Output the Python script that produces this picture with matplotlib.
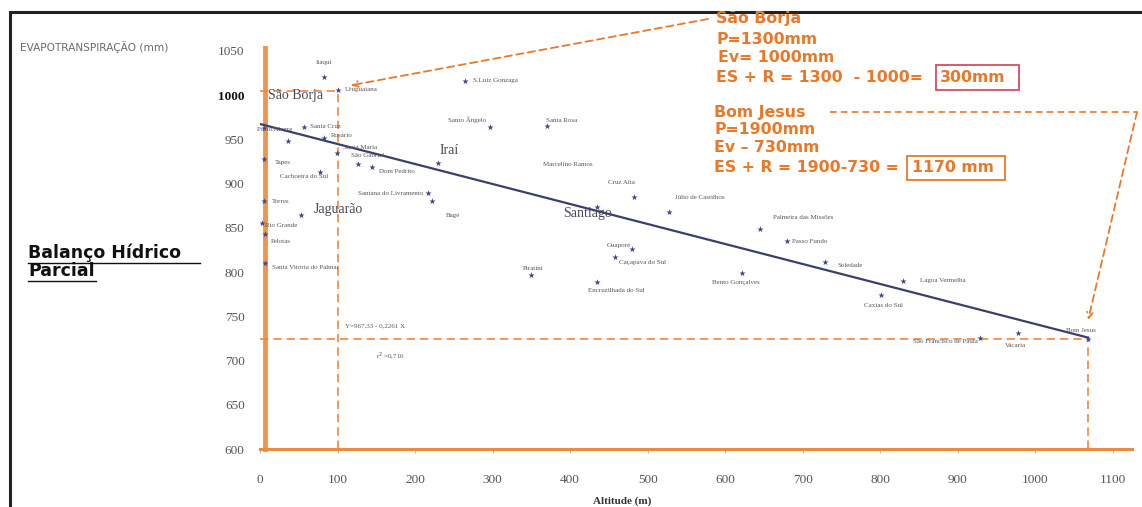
import matplotlib
matplotlib.use("Agg")
import matplotlib.pyplot as plt
from matplotlib.patches import Rectangle

W, H = 1142, 507

# ---------------- data ----------------
names = ["Itaqui", "Uruguaiana", "S.Luiz Gonzaga", "Santo Ângelo", "Santa Rosa",
         "Porto Alegre", "Santa Cruz", "", "Rosário", "Santa Maria", "São Gabriel",
         "Dom Pedrito", "Iraí", "Cachoeira do Sul", "Tapes", "Torres", "Rio Grande",
         "Pelotas", "Santa Vitória do Palmar", "Jaguarão", "Santana do Livramento",
         "Bagé", "Santiago", "Cruz Alta", "Júlio de Castilhos", "Palmeira das Missões",
         "Passo Fundo", "Guaporé", "Caçapava do Sul", "Piratini", "Encruzilhada do Sul",
         "Bento Gonçalves", "Soledade", "Lagoa Vermelha", "Caxias do Sul",
         "São Francisco de Paula", "Vacaria", "Bom Jesus"]
altitude = [82, 101, 265, 296, 370, 5, 57, 36, 82, 99, 126, 144, 229, 77, 5, 5, 3,
            7, 6, 53, 217, 222, 434, 482, 527, 645, 679, 480, 458, 350, 435, 621,
            729, 829, 801, 929, 978, 1068]
evapo = [1021, 1006, 1016, 964, 965, 963, 964, 948, 952, 934, 922, 919, 923, 913,
         928, 880, 855, 843, 810, 864, 889, 880, 873, 885, 868, 849, 835, 826, 817,
         797, 789, 799, 811, 790, 774, 725, 731, 724]
# label offsets in pixels (dx, dy) and alignment
label_dx = [0, 7, 8, -22, 15, -7, 6, 0, 7, 6, -7, 7, 2, -16, 11, 8, 19, 5, 7, 13,
            -5, 21, -9, -12, 31, 43, 5, -13, 4, 2, 19, -6, 12, 17, 2, -3, -3, -7]
label_dy = [14, 0, 0, 7, 6, -2, 0, 0, 2, 6, 9, -5, 13, -4, -4, 0, -2, -8, -4, 6,
            0, -14, -6, 14, 14, 11, 0, 4, -5, 6, -9, -10, -3, 0, -10, -3, -12, 9]
label_ha = ["center", "left", "left", "center", "center", "left", "left", "left",
            "left", "left", "left", "left", "left", "center", "left", "left", "center",
            "left", "left", "left", "right", "center", "center", "center", "center",
            "center", "left", "center", "left", "center", "center", "center", "left",
            "left", "center", "right", "center", "center"]
big_labels = ["Iraí", "Jaguarão", "Santiago"]

extra_labels = ["São Borja", "Marcelino Ramos"]
extra_alt = [10, 365]
extra_et = [999, 922]

x_ticks = [0, 100, 200, 300, 400, 500, 600, 700, 800, 900, 1000, 1100]
y_ticks = [600, 650, 700, 750, 800, 850, 900, 950, 1000, 1050]

intercept, slope = 967.33, -0.2261
fit_x = [0, 1068]

saoborja_alt, saoborja_et = 100, 1005
bomjesus_alt, bomjesus_et = 1068, 724

# ---------------- figure ----------------
fig = plt.figure(figsize=(W / 100, H / 100), dpi=100)
fig.patch.set_facecolor("white")

def fx(px):
    return px / W

def fy(py):
    return 1 - py / H

ax = fig.add_axes([fx(260), fy(449), fx(1113) - fx(260), fy(42) - fy(449)])
ax.set_xlim(0, 1100)
ax.set_ylim(600, 1060)
for s in ["top", "right", "left", "bottom"]:
    ax.spines[s].set_visible(False)

orange = "#ec8a3e"
navy = "#3d4590"
serif = ["Liberation Serif", "DejaVu Serif"]

ax.set_xticks(x_ticks)
ax.set_xticklabels([str(v) for v in x_ticks], fontfamily=serif, fontsize=9.5, color="#555555")
ax.set_yticks(y_ticks)
ax.set_yticklabels([str(v) for v in y_ticks], fontfamily=serif, fontsize=9.5, color="#555555")
for lab in ax.get_yticklabels():
    if lab.get_text() == "1000":
        lab.set_fontweight("bold")
        lab.set_color("#111111")
ax.tick_params(axis="x", length=3, color="#bbbbbb", pad=15)
ax.tick_params(axis="y", length=0, pad=11)

# axis lines (orange)
ax.plot([0, 1125], [600, 600], color=orange, lw=2.2, clip_on=False, zorder=2)
ax.plot([6, 6], [600, 1053], color=orange, lw=3.5, clip_on=False, zorder=2, alpha=0.9)

# dashed guides
dash = dict(color=orange, lw=1.2, ls=(0, (5, 3)), zorder=2)
ax.plot([saoborja_alt, saoborja_alt], [600, saoborja_et], **dash)
ax.plot([0, saoborja_alt], [saoborja_et, saoborja_et], **dash)
ax.plot([0, bomjesus_alt], [bomjesus_et, bomjesus_et], **dash)
ax.plot([bomjesus_alt, bomjesus_alt], [600, bomjesus_et], **dash)

# regression line
ax.plot(fit_x, [intercept + slope * v for v in fit_x], color="#3b3f6e", lw=1.6, zorder=3)

# points
ax.scatter(altitude, evapo, marker="*", s=22, color=navy, zorder=4, linewidths=0)

for n, a, e, dx, dy, ha in zip(names, altitude, evapo, label_dx, label_dy, label_ha):
    if not n:
        continue
    if n in big_labels:
        ax.annotate(n, (a, e), xytext=(dx, dy), textcoords="offset pixels", ha=ha,
                    va="center", fontsize=10, fontfamily=serif, color="#4a4a5a", zorder=5)
    else:
        ax.annotate(n, (a, e), xytext=(dx, dy), textcoords="offset pixels", ha=ha,
                    va="center", fontsize=5, fontfamily=serif, color="#555560", zorder=5)

ax.text(extra_alt[0], extra_et[0], extra_labels[0], fontsize=10, fontfamily=serif,
        color="#4a4a5a", ha="left", va="center", zorder=5)
ax.text(extra_alt[1], extra_et[1], extra_labels[1], fontsize=5, fontfamily=serif,
        color="#555560", ha="left", va="center", zorder=5)

# equation
ax.text(110, 736, "Y=967,33 - 0,2261 X", fontsize=5, fontfamily=serif, color="#555560",
        ha="left", va="bottom")
ax.text(150, 705, "r$^2$ =0,716", fontsize=5, fontfamily=serif, color="#555560",
        ha="left", va="center")

# left-side texts
fig.text(fx(20), fy(47), "EVAPOTRANSPIRAÇÃO (mm)", fontsize=7.6, color="#6a6a6a",
         ha="left", va="center")
fig.text(fx(28), fy(253), "Balanço Hídrico", fontsize=12.5, fontweight="bold",
         color="#111111", ha="left", va="center")
fig.text(fx(28), fy(271), "Parcial", fontsize=12.5, fontweight="bold",
         color="#111111", ha="left", va="center")
fig.add_artist(plt.Line2D([fx(28), fx(200)], [fy(263), fy(263)], color="#111111", lw=1))
fig.add_artist(plt.Line2D([fx(28), fx(96)], [fy(281), fy(281)], color="#111111", lw=1))

fig.text(fx(622), fy(501), "Altitude (m)", fontsize=8, fontweight="bold",
         fontfamily=serif, color="#333333", ha="center", va="center")

# orange annotation texts
oc = "#e8782a"
sans = ["DejaVu Sans"]
fs = 11.3
fig.text(fx(716), fy(19), "São Borja", fontsize=fs, fontweight="bold", color=oc,
         fontfamily=sans, ha="left", va="center")
fig.text(fx(716), fy(39), "P=1300mm", fontsize=fs, fontweight="bold", color=oc,
         fontfamily=sans, ha="left", va="center")
fig.text(fx(718), fy(58), "Ev= 1000mm", fontsize=fs, fontweight="bold", color=oc,
         fontfamily=sans, ha="left", va="center")
fig.text(fx(716), fy(77), "ES + R = 1300  - 1000=", fontsize=fs, fontweight="bold", color=oc,
         fontfamily=sans, ha="left", va="center")
fig.text(fx(940), fy(77), "300mm", fontsize=fs, fontweight="bold", color=oc,
         fontfamily=sans, ha="left", va="center")
fig.add_artist(Rectangle((fx(936), fy(90)), fx(1019) - fx(936), fy(65) - fy(90),
                         fill=False, edgecolor="#d24f63", lw=1.3))

fig.text(fx(714), fy(112), "Bom Jesus", fontsize=fs, fontweight="bold", color=oc,
         fontfamily=sans, ha="left", va="center")
fig.text(fx(714), fy(129), "P=1900mm", fontsize=fs, fontweight="bold", color=oc,
         fontfamily=sans, ha="left", va="center")
fig.text(fx(714), fy(148), "Ev – 730mm", fontsize=fs, fontweight="bold", color=oc,
         fontfamily=sans, ha="left", va="center")
fig.text(fx(714), fy(168), "ES + R = 1900-730 =", fontsize=fs, fontweight="bold", color=oc,
         fontfamily=sans, ha="left", va="center")
fig.text(fx(912), fy(168), "1170 mm", fontsize=fs, fontweight="bold", color=oc,
         fontfamily=sans, ha="left", va="center")
fig.add_artist(Rectangle((fx(907), fy(180)), fx(1005) - fx(907), fy(156) - fy(180),
                         fill=False, edgecolor=oc, lw=1.3))

# arrows
ax.annotate("", xy=(117, 1011), xycoords="data",
            xytext=(fx(708), fy(19)), textcoords="figure fraction",
            arrowprops=dict(arrowstyle="->", color=oc, lw=1.3, ls=(0, (4, 2.5)),
                            shrinkA=0, shrinkB=0))
fig.add_artist(plt.Line2D([fx(830), fx(1137)], [fy(112), fy(112)], color=oc, lw=1.2,
                          ls=(0, (4, 2.5))))
ax.annotate("", xy=(bomjesus_alt, 746), xycoords="data",
            xytext=(fx(1137), fy(112)), textcoords="figure fraction",
            arrowprops=dict(arrowstyle="->", color=oc, lw=1.3, ls=(0, (4, 2.5)),
                            shrinkA=0, shrinkB=0))

# outer frame
fig.add_artist(Rectangle((fx(10), -0.02), 1.02 - fx(10), fy(12) + 0.02, fill=False,
                         edgecolor="#222222", lw=2.2))

fig.savefig("out.png", dpi=100)
